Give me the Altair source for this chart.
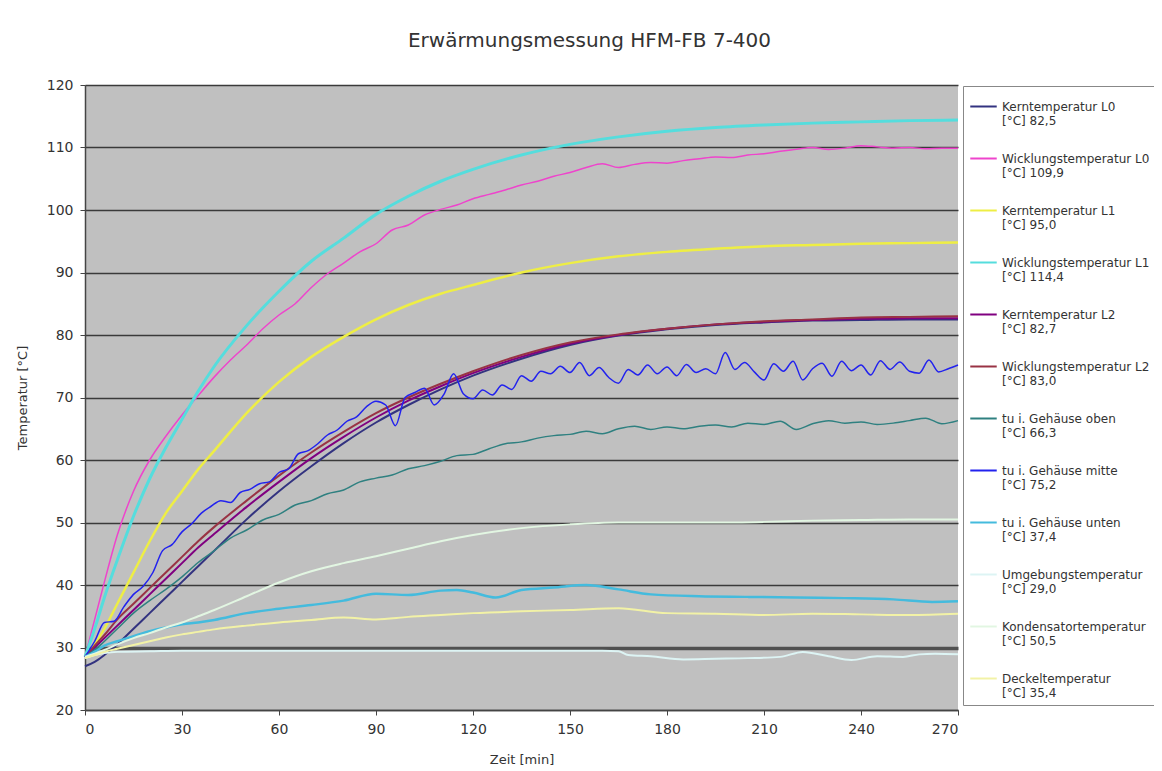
import altair as alt
import pandas as pd

# ---------------- data ----------------
SERIES = [
    "Kerntemperatur L0", "Wicklungstemperatur L0", "Kerntemperatur L1",
    "Wicklungstemperatur L1", "Kerntemperatur L2", "Wicklungstemperatur L2",
    "tu i. Gehäuse oben", "tu i. Gehäuse mitte", "tu i. Gehäuse unten",
    "Umgebungstemperatur", "Kondensatortemperatur", "Deckeltemperatur",
]
LEGEND_VALUES = ["82,5", "109,9", "95,0", "114,4", "82,7", "83,0",
                 "66,3", "75,2", "37,4", "29,0", "50,5", "35,4"]

T_SMOOTH = [0, 3, 6, 10, 15, 20, 25, 30, 35, 40, 50, 60, 70, 80, 90, 100,
            110, 120, 135, 150, 165, 180, 195, 210, 225, 240, 255, 270]

KERN_L0 = [27.0, 27.7, 28.8, 30.5, 33.0, 35.5, 38.0, 40.5, 43.0, 45.5, 50.5,
           55.0, 59.0, 62.7, 66.0, 68.8, 71.3, 73.5, 76.2, 78.4, 79.9, 80.9,
           81.6, 82.0, 82.3, 82.4, 82.5, 82.5]
KERN_L1 = [28.5, 30.5, 33.0, 37.0, 42.0, 47.0, 51.5, 55.0, 58.5, 61.5, 67.5,
           72.5, 76.5, 79.7, 82.5, 84.8, 86.6, 88.0, 90.0, 91.5, 92.6, 93.3,
           93.8, 94.2, 94.4, 94.6, 94.7, 94.8]
WICKLUNG_L1 = [28.5, 33.0, 38.0, 44.0, 51.0, 57.0, 62.0, 66.5, 71.0, 75.0,
               81.5, 87.0, 91.8, 95.5, 99.3, 102.2, 104.6, 106.5, 108.8,
               110.5, 111.7, 112.6, 113.2, 113.6, 113.9, 114.1, 114.3, 114.4]
KERN_L2 = [28.5, 30.0, 31.5, 33.5, 36.0, 38.5, 41.0, 43.5, 46.0, 48.2, 52.5,
           56.5, 60.3, 63.7, 66.8, 69.5, 71.8, 73.9, 76.5, 78.6, 80.0, 81.0,
           81.7, 82.1, 82.4, 82.6, 82.7, 82.7]
WICKLUNG_L2 = [28.5, 30.3, 32.0, 34.5, 37.0, 39.5, 42.0, 44.5, 47.0, 49.3,
               53.5, 57.5, 61.2, 64.5, 67.5, 70.0, 72.2, 74.2, 76.8, 78.8,
               80.1, 81.0, 81.7, 82.2, 82.5, 82.8, 82.9, 83.0]
KONDENSATOR = [28.5, 29.0, 29.6, 30.5, 31.5, 32.3, 33.2, 34.0, 35.0, 36.0,
               38.2, 40.4, 42.2, 43.5, 44.6, 45.8, 47.0, 48.0, 49.1, 49.7,
               50.0, 50.0, 50.0, 50.1, 50.3, 50.4, 50.5, 50.5]
DECKEL = [28.3, 28.8, 29.3, 29.8, 30.4, 31.0, 31.6, 32.1, 32.5, 32.9, 33.5,
          34.0, 34.4, 34.8, 34.5, 34.9, 35.2, 35.5, 35.8, 36.0, 36.3, 35.5,
          35.4, 35.2, 35.4, 35.3, 35.2, 35.4]

T5 = [0, 5, 10, 15, 20, 25, 30, 35, 40, 45, 50, 55, 60, 65, 70, 75, 80, 85,
      90, 95, 100, 105, 110, 115, 120, 125, 130, 135, 140, 145, 150, 155,
      160, 165, 170, 175, 180, 185, 190, 195, 200, 205, 210, 215, 220, 225,
      230, 235, 240, 245, 250, 255, 260, 265, 270]
WICKLUNG_L0 = [28.5, 38.5, 48.0, 55.0, 60.0, 63.8, 67.2, 70.3, 73.3, 76.0,
               78.4, 81.0, 83.2, 85.0, 87.6, 89.8, 91.5, 93.3, 94.6, 96.8,
               97.6, 99.2, 100.1, 100.8, 101.8, 102.5, 103.2, 104.0, 104.6,
               105.4, 106.0, 106.8, 107.4, 106.8, 107.3, 107.6, 107.5, 107.9,
               108.2, 108.5, 108.4, 108.8, 109.0, 109.4, 109.7, 110.0, 109.7,
               109.9, 110.3, 110.1, 109.9, 110.0, 109.8, 109.9, 109.9]
GEH_OBEN = [28.5, 30.5, 33.0, 35.5, 37.5, 39.3, 41.3, 43.6, 45.5, 47.5, 48.8,
            50.4, 51.3, 52.8, 53.5, 54.6, 55.2, 56.5, 57.1, 57.6, 58.6, 59.1,
            59.8, 60.7, 60.9, 61.8, 62.6, 62.9, 63.5, 63.9, 64.1, 64.6, 64.2,
            65.0, 65.4, 64.9, 65.3, 65.0, 65.4, 65.6, 65.3, 65.9, 65.7, 66.2,
            64.9, 65.8, 66.3, 65.9, 66.1, 65.7, 65.9, 66.3, 66.7, 65.8, 66.3]

T3 = [0, 3, 6, 9, 12, 15, 18, 21, 24, 27, 30, 33, 36, 39, 42, 45, 48, 51, 54,
      57, 60, 63, 66, 69, 72, 75, 78, 81, 84, 87, 90, 93, 96, 99, 102, 105,
      108, 111, 114, 117, 120, 123, 126, 129, 132, 135, 138, 141, 144, 147,
      150, 153, 156, 159, 162, 165, 168, 171, 174, 177, 180, 183, 186, 189,
      192, 195, 198, 201, 204, 207, 210, 213, 216, 219, 222, 225, 228, 231,
      234, 237, 240, 243, 246, 249, 252, 255, 258, 261, 264, 267, 270]
GEH_MITTE = [28.5, 31.0, 34.0, 34.2, 36.5, 38.5, 39.8, 42.0, 45.5, 46.5, 48.5,
             49.8, 51.5, 52.6, 53.5, 53.2, 54.8, 55.3, 56.2, 56.5, 58.0, 58.6,
             61.0, 61.5, 62.6, 64.0, 64.8, 66.2, 66.9, 68.5, 69.4, 68.8, 65.5,
             70.0, 70.8, 71.5, 68.8, 70.5, 73.8, 70.6, 69.8, 71.2, 70.4, 72.0,
             71.3, 73.5, 72.6, 74.2, 73.8, 75.0, 74.0, 75.6, 73.5, 74.8, 73.2,
             72.3, 74.5, 73.6, 75.2, 73.8, 74.9, 73.5, 75.3, 74.0, 74.6, 73.8,
             77.2, 74.5, 75.6, 74.1, 72.8, 75.4, 74.2, 75.8, 72.8, 74.6, 75.5,
             73.4, 75.8, 74.3, 75.2, 73.6, 75.9, 74.5, 75.7, 74.2, 73.9, 76.0,
             74.1, 74.6, 75.2]

T_UNTEN = [0, 3, 6, 10, 15, 20, 25, 30, 35, 40, 50, 60, 70, 80, 90, 100, 110,
           115, 120, 127, 135, 145, 155, 165, 175, 190, 205, 220, 235, 250,
           262, 270]
GEH_UNTEN = [28.5, 29.3, 30.3, 31.0, 31.8, 32.6, 33.2, 33.7, 34.0, 34.4, 35.5,
             36.2, 36.8, 37.5, 38.6, 38.4, 39.1, 39.2, 38.8, 38.0, 39.2, 39.6,
             40.0, 39.3, 38.5, 38.2, 38.1, 38.0, 37.9, 37.7, 37.3, 37.4]

T_UMG = [0, 3, 6, 10, 20, 30, 60, 90, 120, 150, 160, 165, 168, 175, 185, 195,
         205, 215, 222, 230, 237, 245, 253, 258, 263, 270]
UMGEBUNG = [28.3, 28.8, 29.1, 29.3, 29.4, 29.5, 29.5, 29.5, 29.5, 29.5, 29.5,
            29.4, 28.8, 28.6, 28.1, 28.2, 28.3, 28.5, 29.3, 28.6, 28.0, 28.6,
            28.5, 28.9, 29.0, 28.9]

# ---------------- styles ----------------
COLORS = ["#333380", "#ee44cc", "#eeee44", "#55dddd", "#800080", "#993344",
          "#2f8080", "#2222ee", "#44bbdd", "#ddf4f4", "#e2f6e2", "#f2f2a6"]
WIDTHS = [2, 1.5, 2.5, 3, 2, 2, 1.5, 1.5, 2.5, 2, 2, 2]

SERIES_DATA = [
    (T_SMOOTH, KERN_L0), (T5, WICKLUNG_L0), (T_SMOOTH, KERN_L1),
    (T_SMOOTH, WICKLUNG_L1), (T_SMOOTH, KERN_L2), (T_SMOOTH, WICKLUNG_L2),
    (T5, GEH_OBEN), (T3, GEH_MITTE), (T_UNTEN, GEH_UNTEN),
    (T_UMG, UMGEBUNG), (T_SMOOTH, KONDENSATOR), (T_SMOOTH, DECKEL),
]

LABELS = [f"{s}|[°C] {v}" for s, v in zip(SERIES, LEGEND_VALUES)]

rows = []
for lab, (ts, vs) in zip(LABELS, SERIES_DATA):
    for t, v in zip(ts, vs):
        rows.append({"series": lab, "t": t, "v": v})
df = pd.DataFrame(rows)

FONT = "DejaVu Sans"
TXT = "#333333"

x_enc = alt.X("t:Q", scale=alt.Scale(domain=[0, 270], nice=False),
              axis=alt.Axis(title="Zeit [min]", values=list(range(0, 271, 30)),
                            grid=False, tickSize=5, labelPadding=7,
                            titlePadding=17, domainColor="#444444",
                            tickColor="#444444", domainWidth=1.5))
y_enc = alt.Y("v:Q", scale=alt.Scale(domain=[20, 120], nice=False),
              axis=alt.Axis(title="Temperatur [°C]", values=list(range(20, 121, 10)),
                            grid=True, tickSize=5, labelPadding=7,
                            titlePadding=17, domainColor="#444444",
                            tickColor="#444444", domainWidth=1.5,
                            gridColor={"condition": {"test": "datum.value === 30",
                                                     "value": "#505050"},
                                       "value": "#3a3a3a"},
                            gridWidth={"condition": {"test": "datum.value === 30",
                                                     "value": 3.5},
                                       "value": 1.6}))
color_enc = alt.Color("series:N",
                      scale=alt.Scale(domain=LABELS, range=COLORS),
                      legend=alt.Legend(title=None,
                                        labelExpr="split(datum.label, '|')"))

layers = []
for lab, w in zip(LABELS, WIDTHS):
    layers.append(
        alt.Chart(df)
        .transform_filter(alt.datum.series == lab)
        .mark_line(strokeWidth=w, interpolate="monotone")
        .encode(x=x_enc, y=y_enc, color=color_enc)
    )

chart = (
    alt.layer(*layers)
    .properties(
        width=873, height=625,
        padding={"left": 77, "top": 77, "right": 196, "bottom": 61},
        autosize=alt.AutoSizeParams(type="none"),
        title=alt.Title("Erwärmungsmessung HFM-FB 7-400", fontSize=20,
                        font=FONT, fontWeight="normal", color=TXT,
                        anchor="middle", dx=68, offset=11, baseline="alphabetic"),
        background="white",
    )
    .configure_view(fill="#c0c0c0", stroke=None)
    .configure_axis(labelFont=FONT, labelFontSize=14, labelColor=TXT,
                    titleFont=FONT, titleFontSize=13, titleColor=TXT,
                    titleFontWeight="normal")
    .configure_legend(orient="none", legendX=878, legendY=1,
                      fillColor="white", strokeColor="#888888",
                      padding=6, symbolType="stroke", symbolSize=700,
                      symbolStrokeWidth=2, labelFont=FONT, labelFontSize=12,
                      labelColor=TXT, labelLimit=400, rowPadding=17,
                      labelOffset=4)
)

chart.save("out.html", embed_options={"renderer": "svg", "actions": False})
